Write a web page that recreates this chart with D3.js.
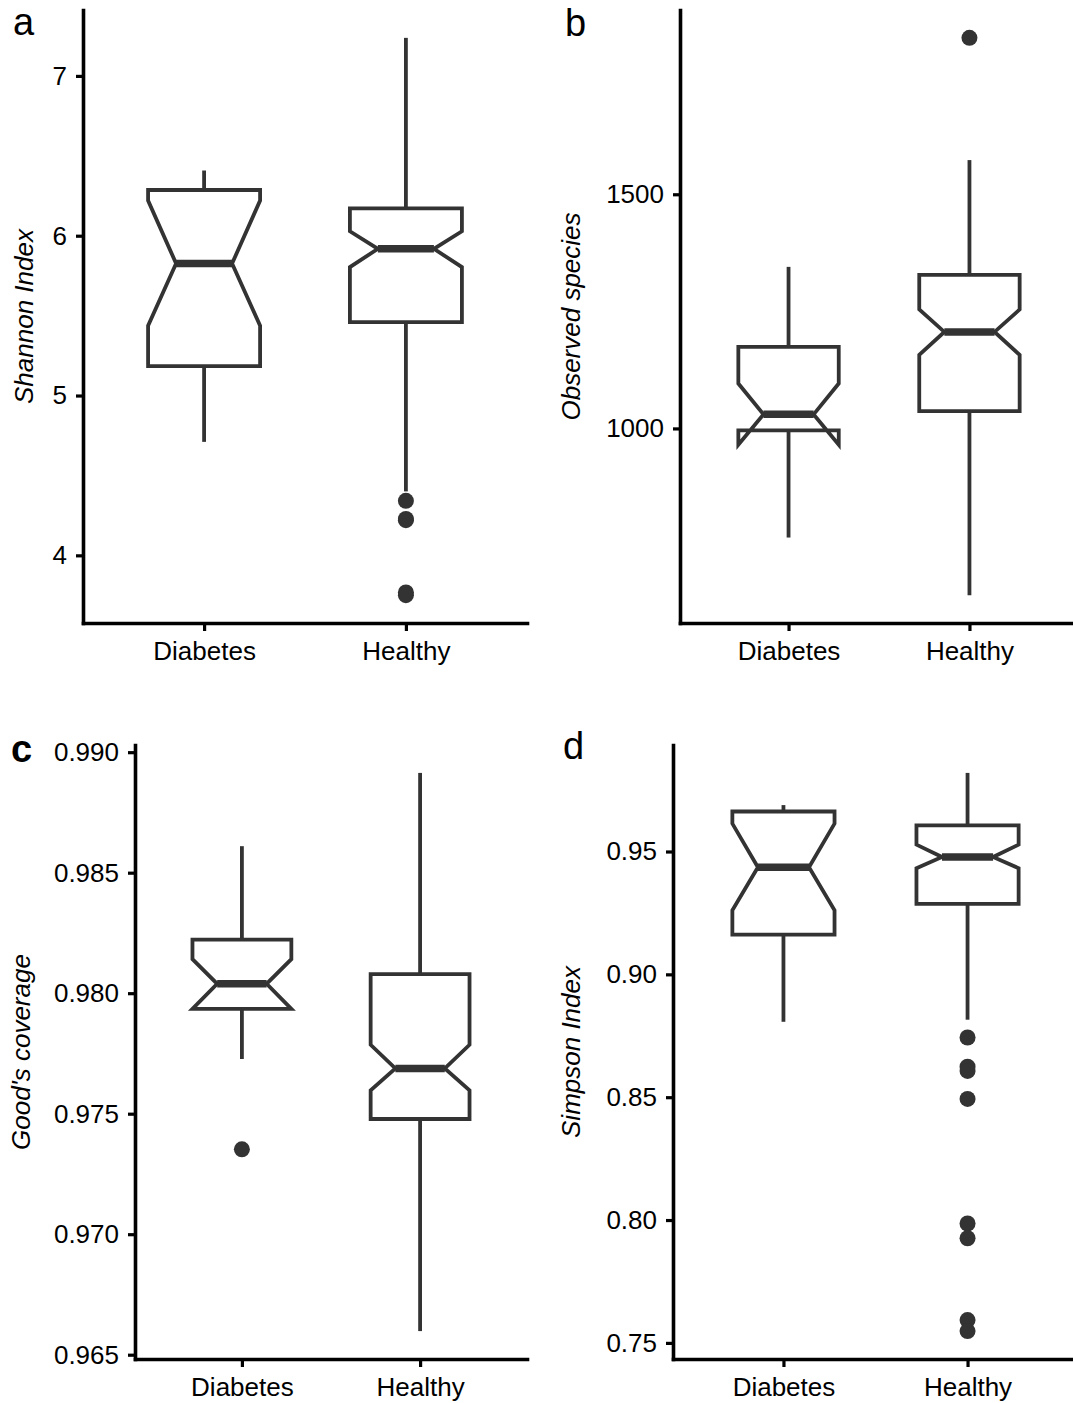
<!DOCTYPE html>
<html><head><meta charset="utf-8">
<script src="https://cdn.jsdelivr.net/npm/d3@7"></script>
<style>
body{margin:0;background:#fff}
svg{display:block}
text{font-family:"Liberation Sans",Arial,Helvetica,sans-serif}
</style>
</head><body>
<svg id="chart" width="1073" height="1403"></svg>
<script>
const categories = ["Diabetes", "Healthy"];

// per group: [ymin, lower, notchlower, middle, notchupper, upper, ymax]
const shannonBox = [[4.71, 5.184, 5.437, 5.826, 6.22, 6.286, 6.408],
                    [4.40, 5.459, 5.804, 5.918, 6.028, 6.171, 7.238]];
const shannonOutliers = [[], [4.341, 4.228, 4.220, 3.768, 3.751]];
const shannonTicks = [4, 5, 6, 7];

const observedBox = [[767, 996, 965, 1030, 1096, 1174, 1345],
                     [644, 1037, 1157, 1206, 1254, 1328, 1573]];
const observedOutliers = [[], [1834]];
const observedTicks = [1000, 1500];

const goodsBox = [[0.97727, 0.97935, 0.97935, 0.98039, 0.98141, 0.98222, 0.98610],
                  [0.96598, 0.97478, 0.97597, 0.97688, 0.97786, 0.98079, 0.98914]];
const goodsOutliers = [[0.97352], []];
const goodsTicks = [0.965, 0.970, 0.975, 0.980, 0.985, 0.990];

const simpsonBox = [[0.88069, 0.91614, 0.92607, 0.94357, 0.96136, 0.96628, 0.96889],
                    [0.88154, 0.92871, 0.9432, 0.94776, 0.95281, 0.96066, 0.98199]];
const simpsonOutliers = [[], [0.8743, 0.8624, 0.8607, 0.8493, 0.7986, 0.7926, 0.7593, 0.7548]];
const simpsonTicks = [0.75, 0.80, 0.85, 0.90, 0.95];

const svg = d3.select("#chart");
const BOXCOL = "#333333";

function drawPanel(o) {
  const g = svg.append("g");
  const r = o.rect;
  const x = d3.scalePoint().domain(categories).range([r.left, r.right]).padding(0.6);
  const all = o.box.flat().concat(o.outliers.flat());
  const lo = d3.min(all), hi = d3.max(all), ex = (hi - lo) * 0.05;
  const y = d3.scaleLinear().domain([lo - ex, hi + ex]).range([r.bottom, r.top]);
  const hw = x.step() * 0.555 / 2;
  const indent = hw * 0.5;

  // y axis
  const ya = g.append("g").attr("transform", `translate(${r.left},0)`)
    .call(d3.axisLeft(y).tickValues(o.ticks).tickFormat(o.fmt).tickSize(7).tickSizeOuter(0).tickPadding(9));
  // x axis
  const xa = g.append("g").attr("transform", `translate(0,${r.bottom})`)
    .call(d3.axisBottom(x).tickSize(8).tickSizeOuter(0).tickPadding(9));
  [ya, xa].forEach(a => {
    a.select(".domain").attr("stroke", "#000").attr("stroke-width", 3.6).attr("stroke-linecap", "square");
    a.selectAll(".tick line").attr("stroke", "#000").attr("stroke-width", 3.2);
    a.selectAll(".tick text").attr("fill", "#000").style("font-size", "26px");
  });
  xa.selectAll(".tick text").attr("dy", "0.76em");

  // boxes
  categories.forEach((c, i) => {
    const [ymin, lower, nl, mid, nu, upper, ymax] = o.box[i];
    const cx = x(c), x0 = cx - hw, x1 = cx + hw;
    g.append("line").attr("x1", cx).attr("x2", cx).attr("y1", y(upper)).attr("y2", y(ymax))
      .attr("stroke", BOXCOL).attr("stroke-width", 3.8);
    g.append("line").attr("x1", cx).attr("x2", cx).attr("y1", y(lower)).attr("y2", y(ymin))
      .attr("stroke", BOXCOL).attr("stroke-width", 3.8);
    const pts = [[x0, upper], [x0, nu], [x0 + indent, mid], [x0, nl], [x0, lower],
                 [x1, lower], [x1, nl], [x1 - indent, mid], [x1, nu], [x1, upper]];
    g.append("path")
      .attr("d", d3.line()(pts.map(p => [p[0], y(p[1])])) + "Z")
      .attr("fill", "#fff").attr("stroke", BOXCOL).attr("stroke-width", 3.8)
      .attr("stroke-linejoin", "miter");
    g.append("line").attr("x1", x0 + indent).attr("x2", x1 - indent).attr("y1", y(mid)).attr("y2", y(mid))
      .attr("stroke", BOXCOL).attr("stroke-width", 7.5);
    g.selectAll(null).data(o.outliers[i]).enter().append("circle")
      .attr("cx", cx).attr("cy", d => y(d)).attr("r", 8).attr("fill", BOXCOL);
  });

  // y title
  g.append("text")
    .attr("transform", `translate(${o.titleX},${(r.top + r.bottom) / 2}) rotate(-90)`)
    .attr("text-anchor", "middle").style("font-size", "26px").style("font-style", "italic")
    .attr("fill", "#000").text(o.title);
  // panel letter
  g.append("text").attr("x", o.lab[0]).attr("y", o.lab[1])
    .style("font-size", "38px").style("font-weight", o.labBold ? "bold" : "normal")
    .attr("fill", "#000").text(o.label);
}

drawPanel({ rect: {left: 83, right: 527, top: 10, bottom: 623}, box: shannonBox, outliers: shannonOutliers,
  ticks: shannonTicks, fmt: d3.format("d"), title: "Shannon Index", titleX: 33, label: "a", lab: [13, 35] });
drawPanel({ rect: {left: 680, right: 1078, top: 10, bottom: 623}, box: observedBox, outliers: observedOutliers,
  ticks: observedTicks, fmt: d3.format("d"), title: "Observed species", titleX: 580, label: "b", lab: [565, 36] });
drawPanel({ rect: {left: 135, right: 527, top: 745, bottom: 1359}, box: goodsBox, outliers: goodsOutliers,
  ticks: goodsTicks, fmt: d3.format(".3f"), title: "Good's coverage", titleX: 30, label: "c", lab: [11, 762], labBold: true });
drawPanel({ rect: {left: 673, right: 1078, top: 745, bottom: 1359}, box: simpsonBox, outliers: simpsonOutliers,
  ticks: simpsonTicks, fmt: d3.format(".2f"), title: "Simpson Index", titleX: 580, label: "d", lab: [563, 759] });
</script>
</body></html>
